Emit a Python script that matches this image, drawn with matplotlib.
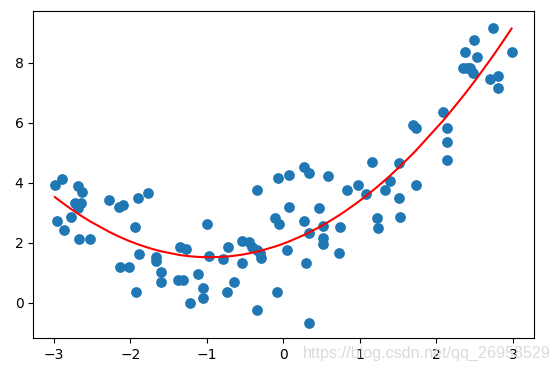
import numpy as np
import matplotlib
matplotlib.use('Agg')
import matplotlib.pyplot as plt

# scatter data
x = [-2.987, -2.900, -2.682, -2.630, -2.725, -2.651, -2.691, -2.782, -2.965, -2.865,
     -2.669, -2.529, -2.277, -2.146, -2.094, -1.906, -1.767, -1.941, -1.885, -1.667,
     -1.667, -2.137, -2.020, -1.606, -1.606, -1.375, -1.318, -1.928, -1.222, -1.113,
     -1.048, -1.048, -1.004, -1.353, -1.275, -0.975, -0.786, -0.721, -0.547, -0.538,
     -0.451, -0.416, -0.342, -0.350, -0.307, -0.298, -0.743, -0.647, -0.350, -0.081,
     -0.111, -0.054, 0.041, -0.068, 0.076, 0.076, 0.268, 0.333, 0.585, 0.268,
     0.338, 0.294, 0.333, 0.469, 0.512, 0.512, 0.512, 0.739, 0.725, 0.826,
     0.969, 1.078, 1.153, 1.218, 1.240, 1.327, 1.392, 1.510, 1.510, 1.523,
     1.728, 1.697, 1.728, 2.081, 2.133, 2.133, 2.133, 2.351, 2.373, 2.438,
     2.490, 2.525, 2.482, 2.743, 2.699, 2.808, 2.808, 2.983, 2.405]
y = [3.93, 4.12, 3.90, 3.71, 3.34, 3.34, 3.16, 2.88, 2.73, 2.43,
     2.12, 2.12, 3.43, 3.21, 3.27, 3.51, 3.68, 2.52, 1.62, 1.52,
     1.40, 1.21, 1.21, 1.02, 0.71, 0.77, 0.77, 0.36, 0.01, 0.96,
     0.51, 0.18, 2.62, 1.88, 1.79, 1.55, 1.47, 1.86, 1.32, 2.08,
     2.04, 1.88, 3.77, 1.77, 1.66, 1.51, 0.36, 0.71, -0.23, 0.36,
     2.84, 2.63, 1.77, 4.16, 4.27, 3.21, 4.54, 4.32, 4.22, 2.73,
     2.32, 1.32, -0.68, 3.18, 2.57, 2.16, 1.96, 2.52, 1.68, 3.77,
     3.93, 3.62, 4.71, 2.82, 2.51, 3.77, 4.07, 4.66, 3.51, 2.88,
     3.93, 5.93, 5.82, 6.38, 5.82, 5.36, 4.77, 7.82, 8.36, 7.82,
     8.77, 8.21, 7.68, 9.18, 7.47, 7.58, 7.16, 8.38, 7.84]

x = np.array(x)
y = np.array(y)

# quadratic regression line, as in the original notebook
coef = np.polyfit(x, y, 2)
x_line = np.sort(x)
y_line = np.polyval(coef, x_line)

fig = plt.figure(figsize=(5.54, 3.71), dpi=100)
ax = fig.add_axes([0.060, 0.088, 0.9045, 0.8815])

ax.scatter(x, y, s=45, color='#1f77b4')
ax.plot(x_line, y_line, color='r')

ax.set_xlim(-3.27, 3.28)
ax.set_ylim(-1.18, 9.72)
ax.set_xticks([-3, -2, -1, 0, 1, 2, 3])
ax.set_yticks([0, 2, 4, 6, 8])

# csdn watermark
fig.text(0.547, 0.048, 'https://blog.csdn.net/qq_26953529', color='#dadada',
         fontsize=11.6, family='Liberation Sans', va='center', ha='left')

fig.savefig('out.png', dpi=100)
